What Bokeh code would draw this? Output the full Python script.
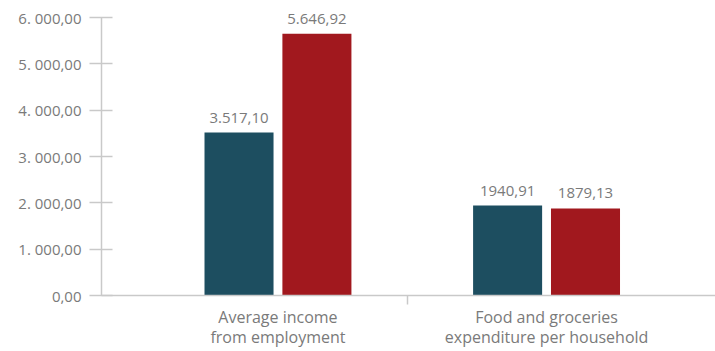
from bokeh.plotting import figure
from bokeh.models import ColumnDataSource, FixedTicker, Range1d
from bokeh.transform import dodge
from bokeh.core.properties import value
from bokeh.embed import file_html
from bokeh.resources import INLINE

# ---- data ----
categories = ["Average income\nfrom employment", "Food and groceries\nexpenditure per household"]
series_a = [3517.10, 1940.91]
series_b = [5646.92, 1879.13]
labels_a = ["3.517,10", "1940,91"]
labels_b = ["5.646,92", "1879,13"]
y_ticks = [0, 1000, 2000, 3000, 4000, 5000, 6000]
y_tick_labels = ["0,00", "1. 000,00", "2. 000,00", "3. 000,00", "4. 000,00", "5. 000,00", "6. 000,00"]
y_max = 6000

COLOR_A = "#1d4e60"
COLOR_B = "#a1181e"
TEXT = "#7a7a7a"
AXIS = "#c9c9c9"
FONT = "Open Sans"

xs = list(range(len(categories)))
src = ColumnDataSource(dict(x=xs, a=series_a, b=series_b, la=labels_a, lb=labels_b))

p = figure(width=715, height=351, output_backend="svg", toolbar_location=None,
           x_range=Range1d(-0.657, 1.629), y_range=Range1d(0, 6367),
           min_border_left=101, min_border_right=0, min_border_top=0, min_border_bottom=56)
p.outline_line_color = None
p.xgrid.visible = False
p.ygrid.visible = False
p.background_fill_color = "white"
p.border_fill_color = "white"

bw = 0.257
off = 0.145
p.vbar(x=dodge("x", -off), top="a", width=bw, source=src, color=COLOR_A, line_color=None)
p.vbar(x=dodge("x", off), top="b", width=bw, source=src, color=COLOR_B, line_color=None)

p.text(x=dodge("x", -off), y="a", text="la", source=src, text_align="center",
       text_baseline="alphabetic", y_offset=-15, text_font=value(FONT),
       text_font_size="15px", text_color=TEXT)
p.text(x=dodge("x", off), y="b", text="lb", source=src, text_align="center",
       text_baseline="alphabetic", y_offset=-15, text_font=value(FONT),
       text_font_size="15px", text_color=TEXT)

# y axis
ya = p.yaxis[0]
ya.ticker = FixedTicker(ticks=y_ticks, minor_ticks=[])
ya.bounds = (0, y_max)
ya.major_label_overrides = {t: l for t, l in zip(y_ticks, y_tick_labels)}
ya.axis_line_color = AXIS
ya.axis_line_width = 1.5
ya.major_tick_line_color = AXIS
ya.major_tick_line_width = 1.5
ya.major_tick_in = 11
ya.major_tick_out = 12
ya.minor_tick_line_color = None
ya.major_label_text_font = FONT
ya.major_label_text_font_size = "15px"
ya.major_label_text_color = TEXT
ya.major_label_standoff = 8

# x axis
xa = p.xaxis[0]
xa.ticker = FixedTicker(ticks=xs, minor_ticks=[0.482])
xa.major_label_overrides = {i: c for i, c in zip(xs, categories)}
xa.axis_line_color = AXIS
xa.axis_line_width = 1.5
xa.major_tick_line_color = None
xa.major_tick_in = 0
xa.major_tick_out = 0
xa.minor_tick_line_color = AXIS
xa.minor_tick_line_width = 1.5
xa.minor_tick_in = 0
xa.minor_tick_out = 9
xa.major_label_text_font = FONT
xa.major_label_text_font_size = "16px"
xa.major_label_text_color = TEXT
xa.major_label_text_line_height = 0.95
xa.major_label_standoff = 1

open("out.html", "w").write(file_html(p, INLINE))
